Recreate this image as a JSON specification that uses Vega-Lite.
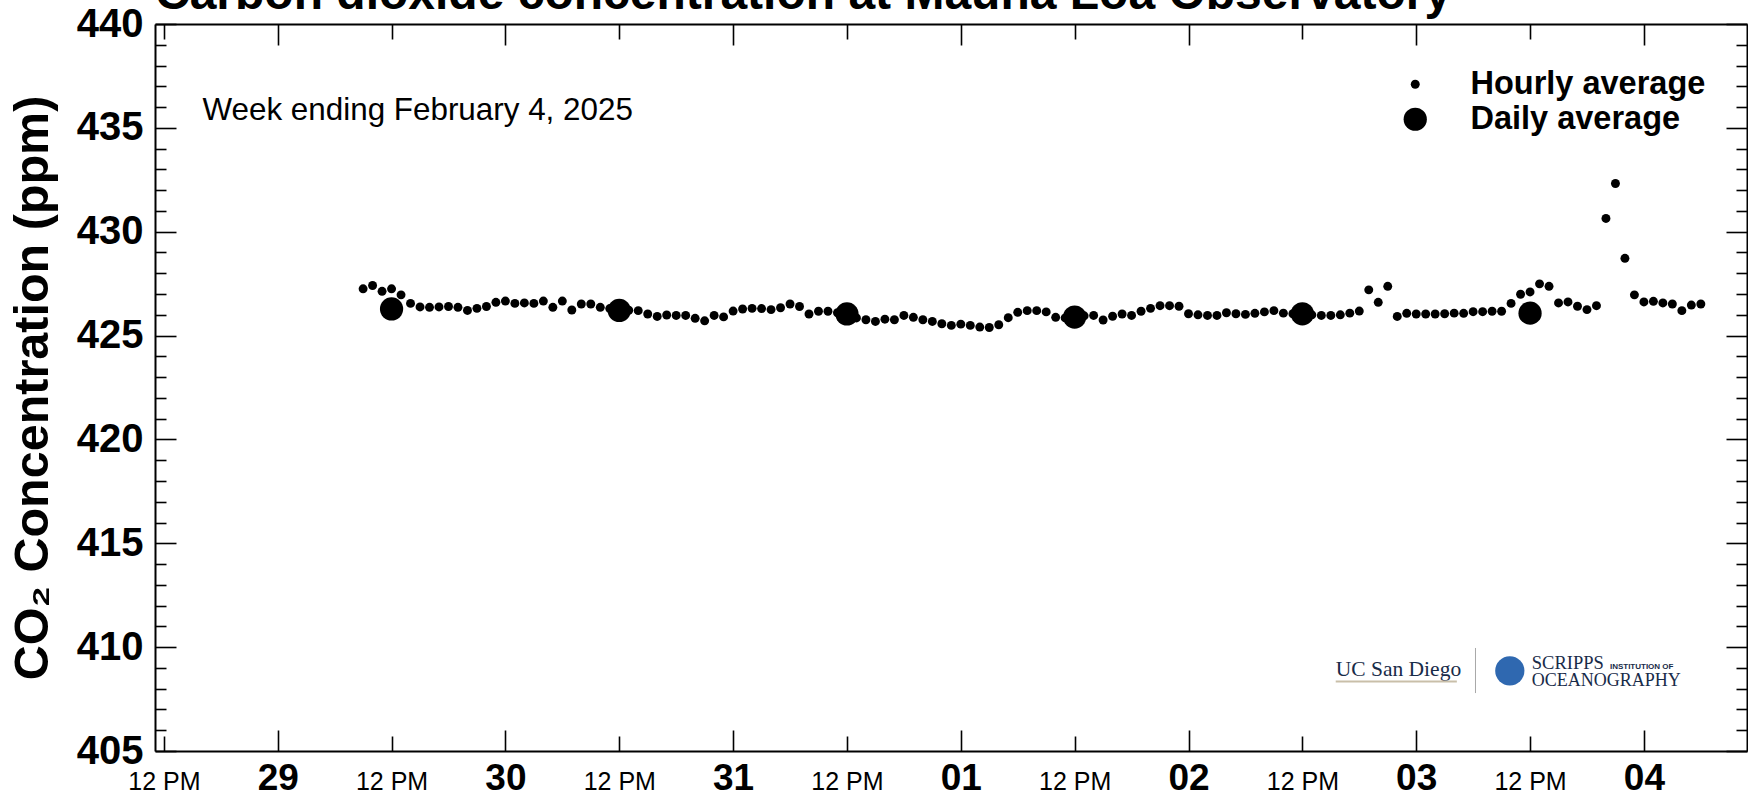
{
  "$schema": "https://vega.github.io/schema/vega-lite/v6.json",
  "width": 1592,
  "height": 727,
  "autosize": {"type": "none"},
  "padding": {"left": 155, "top": 24, "right": 1, "bottom": 45},
  "background": "white",
  "config": {
    "view": {"stroke": null},
    "axis": {"grid": false, "labelFlush": false, "labelOverlap": false, "labelBound": false, "domainColor": "black", "tickColor": "black", "labelColor": "black", "labelFont": "Liberation Sans"}
  },
  "datasets": {
    "hourly": [
      {"time": "2025-01-29T09:00:00Z", "co2": 427.25},
      {"time": "2025-01-29T10:00:00Z", "co2": 427.41},
      {"time": "2025-01-29T11:00:00Z", "co2": 427.13},
      {"time": "2025-01-29T12:00:00Z", "co2": 427.25},
      {"time": "2025-01-29T13:00:00Z", "co2": 426.96},
      {"time": "2025-01-29T14:00:00Z", "co2": 426.55},
      {"time": "2025-01-29T15:00:00Z", "co2": 426.38},
      {"time": "2025-01-29T16:00:00Z", "co2": 426.36},
      {"time": "2025-01-29T17:00:00Z", "co2": 426.38},
      {"time": "2025-01-29T18:00:00Z", "co2": 426.40},
      {"time": "2025-01-29T19:00:00Z", "co2": 426.36},
      {"time": "2025-01-29T20:00:00Z", "co2": 426.21},
      {"time": "2025-01-29T21:00:00Z", "co2": 426.31},
      {"time": "2025-01-29T22:00:00Z", "co2": 426.40},
      {"time": "2025-01-29T23:00:00Z", "co2": 426.60},
      {"time": "2025-01-30T00:00:00Z", "co2": 426.66},
      {"time": "2025-01-30T01:00:00Z", "co2": 426.55},
      {"time": "2025-01-30T02:00:00Z", "co2": 426.57},
      {"time": "2025-01-30T03:00:00Z", "co2": 426.55},
      {"time": "2025-01-30T04:00:00Z", "co2": 426.66},
      {"time": "2025-01-30T05:00:00Z", "co2": 426.36},
      {"time": "2025-01-30T06:00:00Z", "co2": 426.66},
      {"time": "2025-01-30T07:00:00Z", "co2": 426.23},
      {"time": "2025-01-30T08:00:00Z", "co2": 426.52},
      {"time": "2025-01-30T09:00:00Z", "co2": 426.52},
      {"time": "2025-01-30T10:00:00Z", "co2": 426.36},
      {"time": "2025-01-30T11:00:00Z", "co2": 426.30},
      {"time": "2025-01-30T12:00:00Z", "co2": 426.25},
      {"time": "2025-01-30T13:00:00Z", "co2": 426.22},
      {"time": "2025-01-30T14:00:00Z", "co2": 426.20},
      {"time": "2025-01-30T15:00:00Z", "co2": 426.04},
      {"time": "2025-01-30T16:00:00Z", "co2": 425.92},
      {"time": "2025-01-30T17:00:00Z", "co2": 425.99},
      {"time": "2025-01-30T18:00:00Z", "co2": 425.97},
      {"time": "2025-01-30T19:00:00Z", "co2": 425.97},
      {"time": "2025-01-30T20:00:00Z", "co2": 425.83},
      {"time": "2025-01-30T21:00:00Z", "co2": 425.71},
      {"time": "2025-01-30T22:00:00Z", "co2": 425.97},
      {"time": "2025-01-30T23:00:00Z", "co2": 425.90},
      {"time": "2025-01-31T00:00:00Z", "co2": 426.18},
      {"time": "2025-01-31T01:00:00Z", "co2": 426.28},
      {"time": "2025-01-31T02:00:00Z", "co2": 426.31},
      {"time": "2025-01-31T03:00:00Z", "co2": 426.30},
      {"time": "2025-01-31T04:00:00Z", "co2": 426.25},
      {"time": "2025-01-31T05:00:00Z", "co2": 426.34},
      {"time": "2025-01-31T06:00:00Z", "co2": 426.52},
      {"time": "2025-01-31T07:00:00Z", "co2": 426.40},
      {"time": "2025-01-31T08:00:00Z", "co2": 426.04},
      {"time": "2025-01-31T09:00:00Z", "co2": 426.17},
      {"time": "2025-01-31T10:00:00Z", "co2": 426.17},
      {"time": "2025-01-31T11:00:00Z", "co2": 426.10},
      {"time": "2025-01-31T12:00:00Z", "co2": 426.00},
      {"time": "2025-01-31T13:00:00Z", "co2": 425.85},
      {"time": "2025-01-31T14:00:00Z", "co2": 425.76},
      {"time": "2025-01-31T15:00:00Z", "co2": 425.68},
      {"time": "2025-01-31T16:00:00Z", "co2": 425.79},
      {"time": "2025-01-31T17:00:00Z", "co2": 425.76},
      {"time": "2025-01-31T18:00:00Z", "co2": 425.97},
      {"time": "2025-01-31T19:00:00Z", "co2": 425.88},
      {"time": "2025-01-31T20:00:00Z", "co2": 425.76},
      {"time": "2025-01-31T21:00:00Z", "co2": 425.68},
      {"time": "2025-01-31T22:00:00Z", "co2": 425.57},
      {"time": "2025-01-31T23:00:00Z", "co2": 425.49},
      {"time": "2025-02-01T00:00:00Z", "co2": 425.55},
      {"time": "2025-02-01T01:00:00Z", "co2": 425.49},
      {"time": "2025-02-01T02:00:00Z", "co2": 425.41},
      {"time": "2025-02-01T03:00:00Z", "co2": 425.39},
      {"time": "2025-02-01T04:00:00Z", "co2": 425.52},
      {"time": "2025-02-01T05:00:00Z", "co2": 425.86},
      {"time": "2025-02-01T06:00:00Z", "co2": 426.12},
      {"time": "2025-02-01T07:00:00Z", "co2": 426.20},
      {"time": "2025-02-01T08:00:00Z", "co2": 426.20},
      {"time": "2025-02-01T09:00:00Z", "co2": 426.14},
      {"time": "2025-02-01T10:00:00Z", "co2": 425.88},
      {"time": "2025-02-01T11:00:00Z", "co2": 425.85},
      {"time": "2025-02-01T12:00:00Z", "co2": 425.90},
      {"time": "2025-02-01T13:00:00Z", "co2": 425.95},
      {"time": "2025-02-01T14:00:00Z", "co2": 425.97},
      {"time": "2025-02-01T15:00:00Z", "co2": 425.75},
      {"time": "2025-02-01T16:00:00Z", "co2": 425.93},
      {"time": "2025-02-01T17:00:00Z", "co2": 426.04},
      {"time": "2025-02-01T18:00:00Z", "co2": 425.97},
      {"time": "2025-02-01T19:00:00Z", "co2": 426.17},
      {"time": "2025-02-01T20:00:00Z", "co2": 426.31},
      {"time": "2025-02-01T21:00:00Z", "co2": 426.44},
      {"time": "2025-02-01T22:00:00Z", "co2": 426.44},
      {"time": "2025-02-01T23:00:00Z", "co2": 426.41},
      {"time": "2025-02-02T00:00:00Z", "co2": 426.05},
      {"time": "2025-02-02T01:00:00Z", "co2": 426.00},
      {"time": "2025-02-02T02:00:00Z", "co2": 425.97},
      {"time": "2025-02-02T03:00:00Z", "co2": 425.97},
      {"time": "2025-02-02T04:00:00Z", "co2": 426.10},
      {"time": "2025-02-02T05:00:00Z", "co2": 426.05},
      {"time": "2025-02-02T06:00:00Z", "co2": 426.02},
      {"time": "2025-02-02T07:00:00Z", "co2": 426.07},
      {"time": "2025-02-02T08:00:00Z", "co2": 426.14},
      {"time": "2025-02-02T09:00:00Z", "co2": 426.20},
      {"time": "2025-02-02T10:00:00Z", "co2": 426.08},
      {"time": "2025-02-02T11:00:00Z", "co2": 426.05},
      {"time": "2025-02-02T12:00:00Z", "co2": 426.05},
      {"time": "2025-02-02T13:00:00Z", "co2": 426.00},
      {"time": "2025-02-02T14:00:00Z", "co2": 425.97},
      {"time": "2025-02-02T15:00:00Z", "co2": 425.97},
      {"time": "2025-02-02T16:00:00Z", "co2": 426.00},
      {"time": "2025-02-02T17:00:00Z", "co2": 426.08},
      {"time": "2025-02-02T18:00:00Z", "co2": 426.18},
      {"time": "2025-02-02T19:00:00Z", "co2": 427.20},
      {"time": "2025-02-02T20:00:00Z", "co2": 426.60},
      {"time": "2025-02-02T21:00:00Z", "co2": 427.37},
      {"time": "2025-02-02T22:00:00Z", "co2": 425.92},
      {"time": "2025-02-02T23:00:00Z", "co2": 426.07},
      {"time": "2025-02-03T00:00:00Z", "co2": 426.04},
      {"time": "2025-02-03T01:00:00Z", "co2": 426.04},
      {"time": "2025-02-03T02:00:00Z", "co2": 426.04},
      {"time": "2025-02-03T03:00:00Z", "co2": 426.05},
      {"time": "2025-02-03T04:00:00Z", "co2": 426.08},
      {"time": "2025-02-03T05:00:00Z", "co2": 426.07},
      {"time": "2025-02-03T06:00:00Z", "co2": 426.15},
      {"time": "2025-02-03T07:00:00Z", "co2": 426.15},
      {"time": "2025-02-03T08:00:00Z", "co2": 426.17},
      {"time": "2025-02-03T09:00:00Z", "co2": 426.17},
      {"time": "2025-02-03T10:00:00Z", "co2": 426.55},
      {"time": "2025-02-03T11:00:00Z", "co2": 426.99},
      {"time": "2025-02-03T12:00:00Z", "co2": 427.10},
      {"time": "2025-02-03T13:00:00Z", "co2": 427.49},
      {"time": "2025-02-03T14:00:00Z", "co2": 427.37},
      {"time": "2025-02-03T15:00:00Z", "co2": 426.57},
      {"time": "2025-02-03T16:00:00Z", "co2": 426.62},
      {"time": "2025-02-03T17:00:00Z", "co2": 426.41},
      {"time": "2025-02-03T18:00:00Z", "co2": 426.25},
      {"time": "2025-02-03T19:00:00Z", "co2": 426.44},
      {"time": "2025-02-03T20:00:00Z", "co2": 430.64},
      {"time": "2025-02-03T21:00:00Z", "co2": 432.32},
      {"time": "2025-02-03T22:00:00Z", "co2": 428.72},
      {"time": "2025-02-03T23:00:00Z", "co2": 426.96},
      {"time": "2025-02-04T00:00:00Z", "co2": 426.62},
      {"time": "2025-02-04T01:00:00Z", "co2": 426.65},
      {"time": "2025-02-04T02:00:00Z", "co2": 426.57},
      {"time": "2025-02-04T03:00:00Z", "co2": 426.52},
      {"time": "2025-02-04T04:00:00Z", "co2": 426.20},
      {"time": "2025-02-04T05:00:00Z", "co2": 426.47},
      {"time": "2025-02-04T06:00:00Z", "co2": 426.52}
    ],
    "daily": [
      {"time": "2025-01-29T12:00:00Z", "co2": 426.28},
      {"time": "2025-01-30T12:00:00Z", "co2": 426.21},
      {"time": "2025-01-31T12:00:00Z", "co2": 426.04},
      {"time": "2025-02-01T12:00:00Z", "co2": 425.89},
      {"time": "2025-02-02T12:00:00Z", "co2": 426.05},
      {"time": "2025-02-03T12:00:00Z", "co2": 426.08}
    ]
  },
  "resolve": {"axis": {"x": "independent", "y": "independent"}},
  "layer": [
    {
      "data": {"name": "hourly"},
      "mark": {"type": "circle", "color": "black", "opacity": 1},
      "encoding": {
        "x": {
          "field": "time",
          "type": "temporal",
          "scale": {
            "type": "utc",
            "domain": ["2025-01-28T11:04:00Z", "2025-02-04T10:52:00Z"],
            "nice": false
          },
          "axis": {
            "orient": "bottom",
            "title": null,
            "values": ["2025-01-29T00:00:00Z", "2025-01-30T00:00:00Z", "2025-01-31T00:00:00Z", "2025-02-01T00:00:00Z", "2025-02-02T00:00:00Z", "2025-02-03T00:00:00Z", "2025-02-04T00:00:00Z"],
            "domain": true,
            "domainWidth": 2,
            "tickWidth": 1.6,
            "tickSize": -21,
            "labelExpr": "utcFormat(datum.value, '%d')",
            "labelFontSize": 37,
            "labelFontWeight": "bold",
            "labelPadding": 59,
            "labelBaseline": "alphabetic"
          }
        },
        "y": {
          "field": "co2",
          "type": "quantitative",
          "scale": {"domain": [405, 440], "nice": false, "zero": false},
          "axis": {
            "orient": "left",
            "values": [405, 410, 415, 420, 425, 430, 435, 440],
            "title": "CO₂ Concentration (ppm)",
            "titleFont": "Liberation Sans",
            "titleFontSize": 48.5,
            "titleFontWeight": "bold",
            "titleColor": "black",
            "titlePadding": 19,
            "domain": true,
            "domainWidth": 2,
            "tickWidth": 1.6,
            "tickSize": -21,
            "labelFontSize": 40,
            "labelFontWeight": "bold",
            "labelPadding": 33
          }
        },
        "size": {
          "datum": "Hourly average",
          "type": "ordinal",
          "scale": {"domain": ["Hourly average", "Daily average"], "range": [80, 540]},
          "legend": {
            "title": null,
            "orient": "none",
            "legendX": 1244,
            "legendY": 44,
            "padding": 0,
            "labelFont": "Liberation Sans",
            "labelFontSize": 32.5,
            "labelFontWeight": "bold",
            "labelColor": "black",
            "labelOffset": 39,
            "labelLimit": 500,
            "rowPadding": 2,
            "symbolType": "circle",
            "symbolFillColor": "black",
            "symbolStrokeColor": "black",
            "symbolStrokeWidth": 0,
            "symbolOpacity": 1
          }
        }
      }
    },
    {
      "data": {"name": "daily"},
      "mark": {"type": "circle", "color": "black", "opacity": 1},
      "encoding": {
        "x": {
          "field": "time",
          "type": "temporal",
          "axis": {
            "orient": "top",
            "title": null,
            "values": ["2025-01-29T00:00:00Z", "2025-01-30T00:00:00Z", "2025-01-31T00:00:00Z", "2025-02-01T00:00:00Z", "2025-02-02T00:00:00Z", "2025-02-03T00:00:00Z", "2025-02-04T00:00:00Z"],
            "labels": false,
            "domain": true,
            "domainWidth": 2,
            "tickWidth": 1.6,
            "tickSize": -21
          }
        },
        "y": {
          "field": "co2",
          "type": "quantitative",
          "axis": {
            "orient": "right",
            "title": null,
            "values": [405, 410, 415, 420, 425, 430, 435, 440],
            "labels": false,
            "domain": true,
            "domainWidth": 2,
            "tickWidth": 1.6,
            "tickSize": -21
          }
        },
        "size": {"datum": "Daily average", "type": "ordinal"}
      }
    },
    {
      "data": {"values": [{}]},
      "mark": {"type": "text", "text": "Week ending February 4, 2025", "font": "Liberation Sans", "fontSize": 31.4, "align": "left", "baseline": "alphabetic", "color": "black"},
      "encoding": {
        "x": {
          "datum": 1738080240000,
          "type": "temporal",
          "axis": {
            "orient": "bottom",
            "title": null,
            "values": ["2025-01-28T12:00:00Z", "2025-01-29T12:00:00Z", "2025-01-30T12:00:00Z", "2025-01-31T12:00:00Z", "2025-02-01T12:00:00Z", "2025-02-02T12:00:00Z", "2025-02-03T12:00:00Z"],
            "domain": false,
            "tickWidth": 1.6,
            "tickSize": -15,
            "labelExpr": "'12 PM'",
            "labelFontSize": 25,
            "labelFontWeight": "normal",
            "labelPadding": 53,
            "labelBaseline": "alphabetic"
          }
        },
        "y": {
          "datum": 435.39,
          "type": "quantitative",
          "axis": {
            "orient": "left",
            "title": null,
            "values": [406,407,408,409,411,412,413,414,416,417,418,419,421,422,423,424,426,427,428,429,431,432,433,434,436,437,438,439],
            "labels": false,
            "domain": false,
            "tickWidth": 1.6,
            "tickSize": -11
          }
        }
      }
    },
    {
      "data": {"values": [{}]},
      "mark": {"type": "text", "text": "UC San Diego", "font": "Liberation Serif", "fontSize": 21.5, "align": "left", "baseline": "alphabetic", "color": "#182B49"},
      "encoding": {
        "x": {
          "datum": 1738510260000,
          "type": "temporal",
          "axis": {
            "orient": "top",
            "title": null,
            "values": ["2025-01-28T12:00:00Z", "2025-01-29T12:00:00Z", "2025-01-30T12:00:00Z", "2025-01-31T12:00:00Z", "2025-02-01T12:00:00Z", "2025-02-02T12:00:00Z", "2025-02-03T12:00:00Z"],
            "labels": false,
            "domain": false,
            "tickWidth": 1.6,
            "tickSize": -15
          }
        },
        "y": {
          "datum": 408.61,
          "type": "quantitative",
          "axis": {
            "orient": "right",
            "title": null,
            "values": [406,407,408,409,411,412,413,414,416,417,418,419,421,422,423,424,426,427,428,429,431,432,433,434,436,437,438,439],
            "labels": false,
            "domain": false,
            "tickWidth": 1.6,
            "tickSize": -11
          }
        }
      }
    },
    {
      "data": {"values": [{}]},
      "mark": {"type": "text", "text": "Carbon dioxide concentration at Mauna Loa Observatory", "font": "Liberation Sans", "fontSize": 48, "fontWeight": "bold", "align": "left", "baseline": "alphabetic", "color": "black", "clip": false},
      "encoding": {
        "x": {"datum": 1738062240000, "type": "temporal", "axis": null},
        "y": {"datum": 440.70, "type": "quantitative", "axis": null}
      }
    },
    {
      "data": {"values": [{}]},
      "mark": {"type": "rule", "color": "#C9BFA9", "strokeWidth": 2},
      "encoding": {
        "x": {"datum": 1738510260000, "type": "temporal", "axis": null},
        "x2": {"datum": 1738556220000},
        "y": {"datum": 408.34, "type": "quantitative", "axis": null}
      }
    },
    {
      "data": {"values": [{}]},
      "mark": {"type": "rule", "color": "#A8A8A8", "strokeWidth": 1},
      "encoding": {
        "x": {"datum": 1738563300000, "type": "temporal", "axis": null},
        "y": {"datum": 409.96, "type": "quantitative", "axis": null},
        "y2": {"datum": 407.79}
      }
    },
    {
      "data": {"values": [{}]},
      "mark": {"type": "circle", "size": 855, "opacity": 1, "color": "#2F68B0"},
      "encoding": {
        "x": {"datum": 1738576320000, "type": "temporal", "axis": null},
        "y": {"datum": 408.86, "type": "quantitative", "axis": null}
      }
    },
    {
      "data": {"values": [{}]},
      "mark": {"type": "text", "text": "SCRIPPS", "font": "Liberation Serif", "fontSize": 18.5, "align": "left", "baseline": "alphabetic", "color": "#182B49"},
      "encoding": {
        "x": {"datum": 1738584660000, "type": "temporal", "axis": null},
        "y": {"datum": 408.93, "type": "quantitative", "axis": null}
      }
    },
    {
      "data": {"values": [{}]},
      "mark": {"type": "text", "text": "INSTITUTION OF", "font": "Liberation Sans", "fontSize": 8, "fontWeight": "bold", "align": "left", "baseline": "alphabetic", "color": "#182B49"},
      "encoding": {
        "x": {"datum": 1738614300000, "type": "temporal", "axis": null},
        "y": {"datum": 408.95, "type": "quantitative", "axis": null}
      }
    },
    {
      "data": {"values": [{}]},
      "mark": {"type": "text", "text": "OCEANOGRAPHY", "font": "Liberation Serif", "fontSize": 18, "align": "left", "baseline": "alphabetic", "color": "#182B49"},
      "encoding": {
        "x": {"datum": 1738584660000, "type": "temporal", "axis": null},
        "y": {"datum": 408.12, "type": "quantitative", "axis": null}
      }
    }
  ]
}
